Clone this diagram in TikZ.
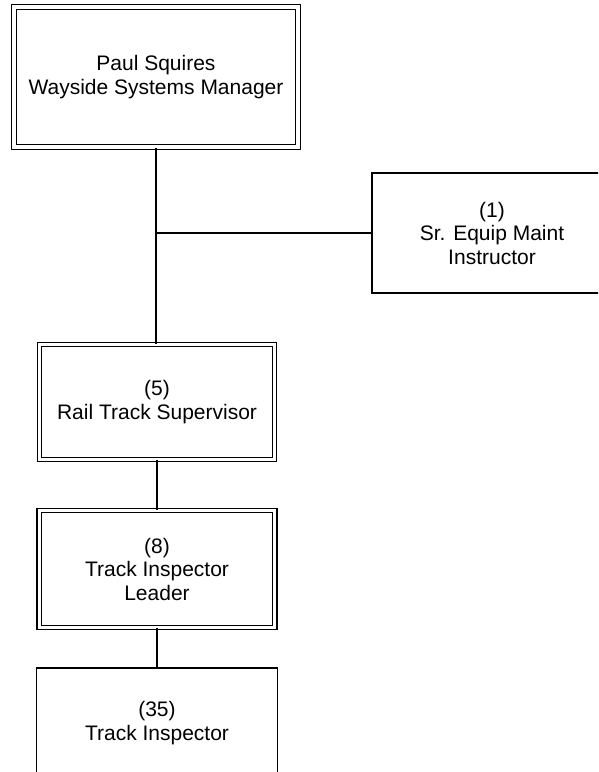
\documentclass[tikz,border=0pt]{standalone}
\usepackage{fontspec}
\setmainfont{Liberation Sans}
\begin{document}
\begin{tikzpicture}[x=1pt,y=-1pt,
  box/.style={draw=black, line width=1.2pt, inner sep=0pt, align=center,
    font=\fontsize{21}{23.5}\selectfont},
  dbox/.style={box, double=white, double distance=3.4pt, line width=1.1pt},
  conn/.style={draw=black, line width=1.2pt}]
\useasboundingbox (0,0) rectangle (598,772);
\clip (0,0) rectangle (598,772);
\node[dbox, minimum width=284pt, minimum height=140pt] (top) at (156,77) {Paul Squires\\Wayside Systems Manager};
\node[box, minimum width=240pt, minimum height=120pt] (instr) at (492,233) {(1)\\Sr. Equip Maint\\Instructor};
\node[dbox, minimum width=235pt, minimum height=115pt] (sup) at (157,402) {(5)\\Rail Track Supervisor};
\node[dbox, minimum width=235.5pt, minimum height=117pt] (lead) at (157,569) {(8)\\Track Inspector\\Leader};
\node[box, minimum width=241pt, minimum height=110pt] (insp) at (157,723) {(35)\\Track Inspector};
\coordinate (j) at (top.south |- instr.west);
\draw[conn] (top.south) -- (top.south |- sup.north);
\draw[conn] (j) -- (instr.west);
\draw[conn] (sup.south) -- (lead.north);
\draw[conn] (lead.south) -- (insp.north);
\end{tikzpicture}
\end{document}
